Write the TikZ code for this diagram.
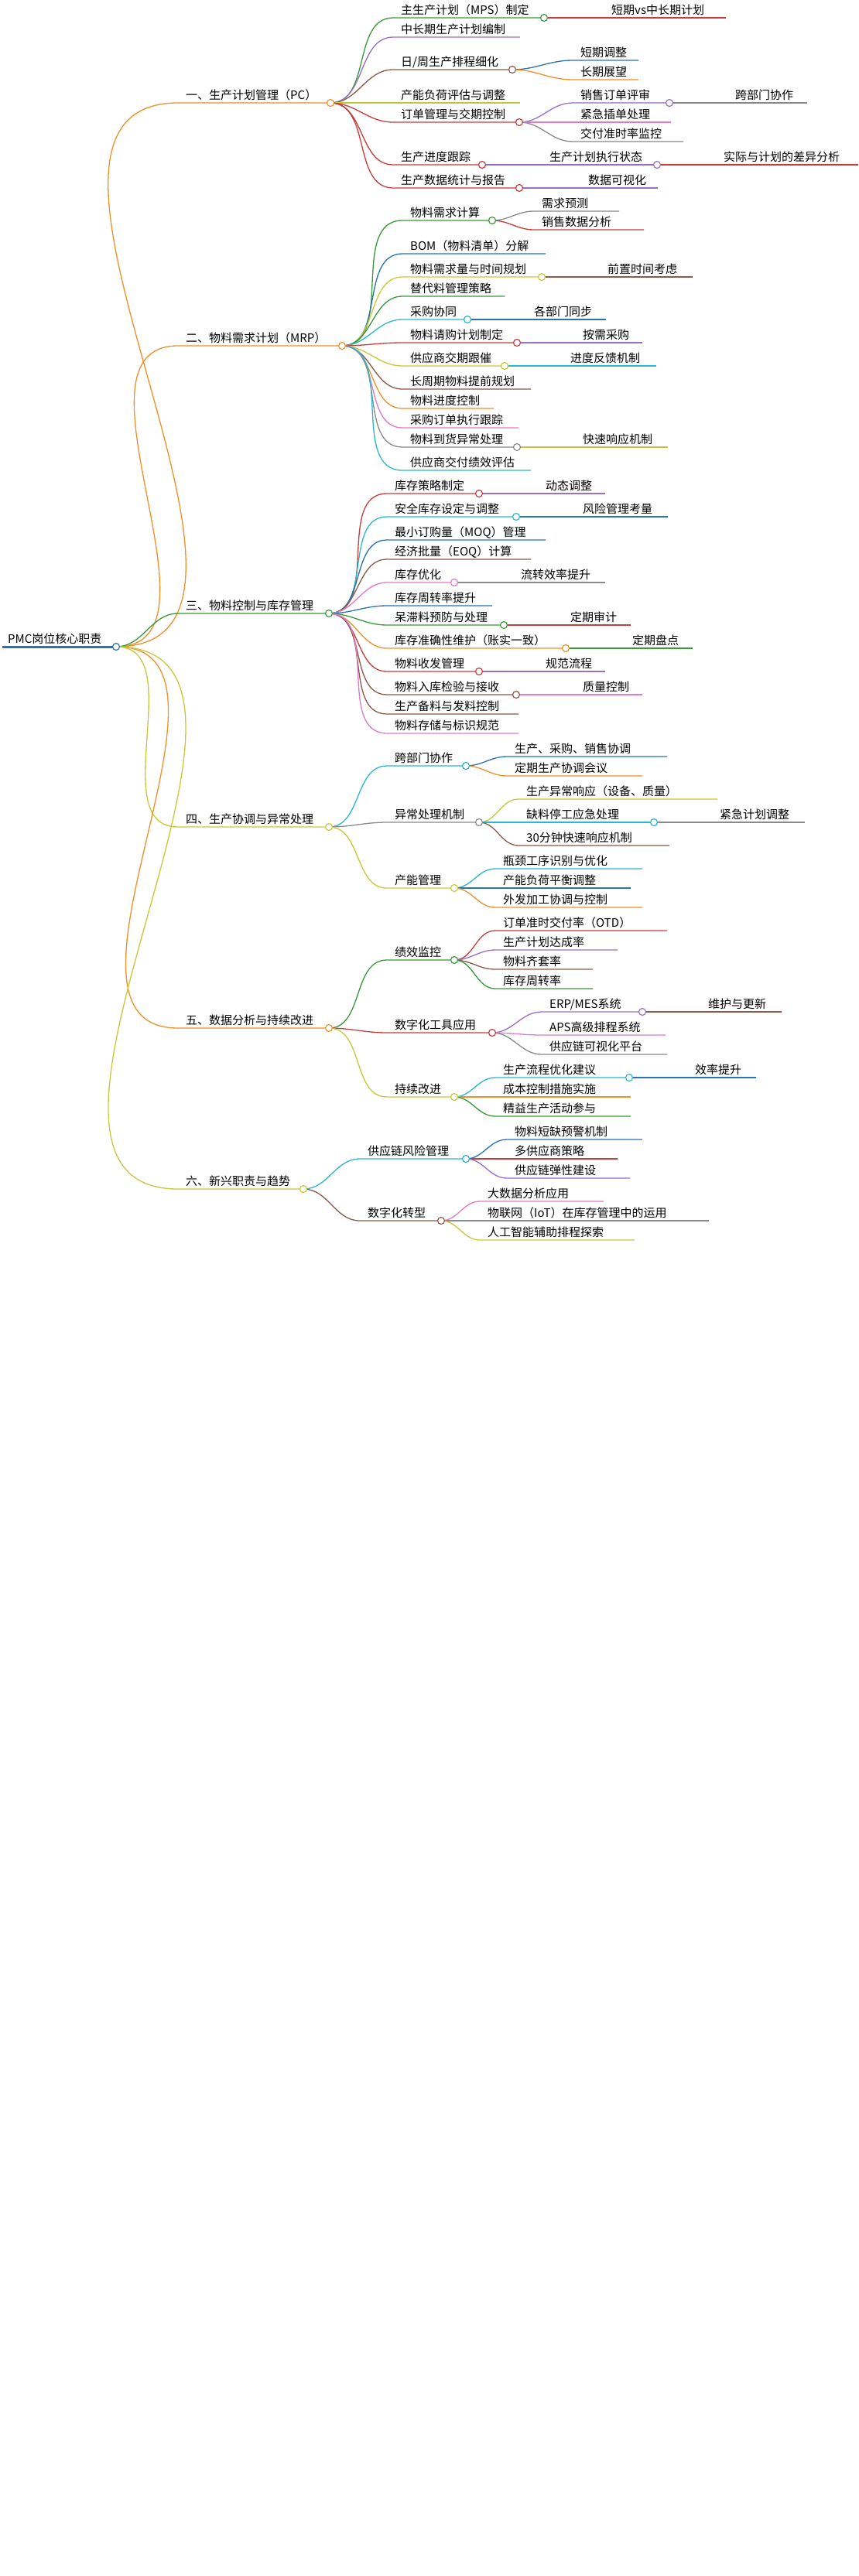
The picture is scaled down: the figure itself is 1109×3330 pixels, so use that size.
\documentclass[tikz,border=0pt]{standalone}
\usepackage{fontspec}
\setmainfont{Noto Sans CJK SC}
\definecolor{cgreen}{HTML}{3A9A3A}
\definecolor{cpurple}{HTML}{9B6FC7}
\definecolor{cbrown}{HTML}{8B5A4A}
\definecolor{cyellow}{HTML}{C8C83C}
\definecolor{cred}{HTML}{C83C3C}
\definecolor{corange}{HTML}{F0902A}
\definecolor{cblue}{HTML}{2A72B0}
\definecolor{ccyan}{HTML}{2AB8CC}
\definecolor{cpink}{HTML}{E07AC8}
\definecolor{cgray}{HTML}{8A8A8A}
\tikzset{
  edge/.style={line width=1.3pt},
  lbl/.style={inner sep=0pt,anchor=base west,font=\fontsize{15}{17}\selectfont},
  knot/.style={circle,fill=white,line width=1.2pt,minimum size=9pt,inner sep=0pt}
}
% name, parent, x start, x end, y, colour, text
\newcommand{\br}[7]{%
  \coordinate (#1-s) at (#3,#5);
  \coordinate (#1) at (#4,#5);
  \draw[edge,#6] (#2) to[out=0,in=180] (#1-s) -- (#1);
  \node[lbl] (#1-t) at (#3+10,#5-5) {#7};
}
\newcommand{\knot}[2]{\node[knot,draw=#2] at (#1) {};}
\begin{document}
\begin{tikzpicture}[x=1pt,y=-1pt]
\useasboundingbox[fill=white] (0,0) rectangle (1109,3330);
%root
\coordinate (root-s) at (3,836);
\coordinate (root) at (150,836);
\draw[line width=3pt,cblue] (root-s) -- (root);
\node[lbl] (root-t) at (10,831) {PMC岗位核心职责};
%level 1
\br{a}{root}{230}{427}{133}{corange}{一、生产计划管理（PC）}
\br{b}{root}{230}{442}{447}{corange}{二、物料需求计划（MRP）}
\br{c}{root}{230}{425}{793}{cgreen}{三、物料控制与库存管理}
\br{d}{root}{230}{425}{1069}{cyellow}{四、生产协调与异常处理}
\br{e}{root}{230}{425}{1329}{corange}{五、数据分析与持续改进}
\br{f}{root}{230}{392}{1537}{cyellow}{六、新兴职责与趋势}
%一
\br{a1}{a}{508}{703}{23}{cgreen}{主生产计划（MPS）制定}
\br{a2}{a}{508}{672}{48}{cpurple}{中长期生产计划编制}
\br{a3}{a}{508}{662}{90}{cbrown}{日/周生产排程细化}
\br{a4}{a}{508}{672}{133}{cyellow}{产能负荷评估与调整}
\br{a5}{a}{508}{671}{158}{cred}{订单管理与交期控制}
\br{a6}{a}{508}{623}{213}{cred}{生产进度跟踪}
\br{a7}{a}{508}{671}{243}{cred}{生产数据统计与报告}
\br{a11}{a1}{710}{938}{23}{cred}{\hspace{70pt}短期vs中长期计划}
\br{a31}{a3}{740}{825}{78}{cblue}{短期调整}
\br{a32}{a3}{740}{825}{103}{corange}{长期展望}
\br{a51}{a5}{740}{865}{133}{cpurple}{销售订单评审}
\br{a52}{a5}{740}{867}{158}{cpink}{紧急插单处理}
\br{a53}{a5}{740}{883}{183}{cgray}{交付准时率监控}
\br{a511}{a51}{870}{1043}{133}{cgray}{\hspace{70pt}跨部门协作}
\br{a61}{a6}{630}{849}{213}{cpurple}{\hspace{70pt}生产计划执行状态}
\br{a611}{a61}{855}{1109}{213}{cred}{\hspace{70pt}实际与计划的差异分析}
\br{a71}{a7}{680}{850}{243}{cpurple}{\hspace{70pt}数据可视化}
\knot{a1}{cgreen}\knot{a3}{cbrown}\knot{a5}{cred}\knot{a51}{cpurple}
\knot{a6}{cred}\knot{a61}{cpurple}\knot{a7}{cred}
%二
\br{b1}{b}{520}{636}{285}{cgreen}{物料需求计算}
\br{b2}{b}{520}{705}{328}{cblue}{BOM（物料清单）分解}
\br{b3}{b}{520}{700}{358}{cyellow}{物料需求量与时间规划}
\br{b4}{b}{520}{652}{383}{cgreen}{替代料管理策略}
\br{b5}{b}{520}{604}{413}{ccyan}{采购协同}
\br{b6}{b}{520}{668}{443}{cred}{物料请购计划制定}
\br{b7}{b}{520}{652}{473}{cyellow}{供应商交期跟催}
\br{b8}{b}{520}{686}{503}{cbrown}{长周期物料提前规划}
\br{b9}{b}{520}{638}{528}{corange}{物料进度控制}
\br{b10}{b}{520}{670}{553}{cpink}{采购订单执行跟踪}
\br{b11}{b}{520}{668}{578}{cgray}{物料到货异常处理}
\br{b12}{b}{520}{686}{608}{ccyan}{供应商交付绩效评估}
\br{b11a}{b1}{690}{800}{273}{cgray}{需求预测}
\br{b12a}{b1}{690}{832}{297}{cred}{销售数据分析}
\br{b31}{b3}{705}{895}{358}{cbrown}{\hspace{70pt}前置时间考虑}
\br{b51}{b5}{610}{783}{413}{cblue}{\hspace{70pt}各部门同步}
\br{b61}{b6}{673}{830}{443}{cpurple}{\hspace{70pt}按需采购}
\br{b71}{b7}{657}{848}{473}{ccyan}{\hspace{70pt}进度反馈机制}
\br{b111}{b11}{673}{863}{578}{cyellow}{\hspace{70pt}快速响应机制}
\knot{b1}{cgreen}\knot{b3}{cyellow}\knot{b5}{ccyan}\knot{b6}{cred}
\knot{b7}{cyellow}\knot{b11}{cgray}
%三
\br{c1}{c}{500}{619}{638}{cred}{库存策略制定}
\br{c2}{c}{500}{667}{668}{ccyan}{安全库存设定与调整}
\br{c3}{c}{500}{705}{698}{cblue}{最小订购量（MOQ）管理}
\br{c4}{c}{500}{686}{723}{cbrown}{经济批量（EOQ）计算}
\br{c5}{c}{500}{587}{753}{cpink}{库存优化}
\br{c6}{c}{500}{636}{783}{cblue}{库存周转率提升}
\br{c7}{c}{500}{651}{808}{cgreen}{呆滞料预防与处理}
\br{c8}{c}{500}{731}{838}{corange}{库存准确性维护（账实一致）}
\br{c9}{c}{500}{619}{868}{cred}{物料收发管理}
\br{c10}{c}{500}{667}{898}{cbrown}{物料入库检验与接收}
\br{c11}{c}{500}{670}{923}{cbrown}{生产备料与发料控制}
\br{c12}{c}{500}{670}{948}{cpink}{物料存储与标识规范}
\br{c1a}{c1}{625}{782}{638}{cpurple}{\hspace{70pt}动态调整}
\br{c2a}{c2}{673}{863}{668}{cblue}{\hspace{70pt}风险管理考量}
\br{c5a}{c5}{593}{782}{753}{cgray}{\hspace{70pt}流转效率提升}
\br{c7a}{c7}{657}{815}{808}{cred}{\hspace{70pt}定期审计}
\br{c8a}{c8}{737}{895}{838}{cgreen}{\hspace{70pt}定期盘点}
\br{c9a}{c9}{625}{782}{868}{cpurple}{\hspace{70pt}规范流程}
\br{c10a}{c10}{673}{830}{898}{cpink}{\hspace{70pt}质量控制}
\knot{c1}{cred}\knot{c2}{ccyan}\knot{c5}{cpink}\knot{c7}{cgreen}
\knot{c8}{corange}\knot{c9}{cred}\knot{c10}{cbrown}
%四
\br{d1}{d}{500}{602}{990}{ccyan}{跨部门协作}
\br{d2}{d}{500}{619}{1063}{cgray}{异常处理机制}
\br{d3}{d}{500}{587}{1148}{cyellow}{产能管理}
\br{d11}{d1}{655}{862}{978}{cblue}{生产、采购、销售协调}
\br{d12}{d1}{655}{830}{1003}{corange}{定期生产协调会议}
\br{d21}{d2}{670}{927}{1033}{cyellow}{生产异常响应（设备、质量）}
\br{d22}{d2}{670}{845}{1063}{ccyan}{缺料停工应急处理}
\br{d23}{d2}{670}{865}{1093}{cbrown}{30分钟快速响应机制}
\br{d221}{d22}{850}{1040}{1063}{cgray}{\hspace{70pt}紧急计划调整}
\br{d31}{d3}{640}{830}{1123}{ccyan}{瓶颈工序识别与优化}
\br{d32}{d3}{640}{815}{1148}{cblue}{产能负荷平衡调整}
\br{d33}{d3}{640}{830}{1173}{corange}{外发加工协调与控制}
\knot{d1}{ccyan}\knot{d2}{cgray}\knot{d22}{ccyan}\knot{d3}{cyellow}
%五
\br{e1}{e}{500}{587}{1241}{cgreen}{绩效监控}
\br{e2}{e}{500}{636}{1335}{cred}{数字化工具应用}
\br{e3}{e}{500}{587}{1418}{cyellow}{持续改进}
\br{e11}{e1}{640}{862}{1203}{cred}{订单准时交付率（OTD）}
\br{e12}{e1}{640}{798}{1228}{cpurple}{生产计划达成率}
\br{e13}{e1}{640}{766}{1253}{cbrown}{物料齐套率}
\br{e14}{e1}{640}{766}{1278}{cgreen}{库存周转率}
\br{e21}{e2}{700}{830}{1308}{cpurple}{ERP/MES系统}
\br{e22}{e2}{700}{860}{1338}{cpink}{APS高级排程系统}
\br{e23}{e2}{700}{862}{1363}{cgray}{供应链可视化平台}
\br{e211}{e21}{835}{1010}{1308}{cbrown}{\hspace{70pt}维护与更新}
\br{e31}{e3}{640}{813}{1393}{ccyan}{生产流程优化建议}
\br{e32}{e3}{640}{815}{1418}{corange}{成本控制措施实施}
\br{e33}{e3}{640}{815}{1443}{cgreen}{精益生产活动参与}
\br{e311}{e31}{818}{977}{1393}{cblue}{\hspace{70pt}效率提升}
\knot{e1}{cgreen}\knot{e2}{cred}\knot{e21}{cpurple}\knot{e3}{cyellow}\knot{e31}{ccyan}
%六
\br{f1}{f}{465}{602}{1498}{ccyan}{供应链风险管理}
\br{f2}{f}{465}{570}{1578}{cbrown}{数字化转型}
\br{f11}{f1}{655}{830}{1473}{cblue}{物料短缺预警机制}
\br{f12}{f1}{655}{798}{1498}{cred}{多供应商策略}
\br{f13}{f1}{655}{814}{1523}{cpurple}{供应链弹性建设}
\br{f21}{f2}{620}{780}{1553}{cpink}{大数据分析应用}
\br{f22}{f2}{620}{916}{1578}{cgray}{物联网（IoT）在库存管理中的运用}
\br{f23}{f2}{620}{820}{1603}{cyellow}{人工智能辅助排程探索}
\knot{f1}{ccyan}\knot{f2}{cbrown}
\knot{a}{corange}\knot{b}{corange}\knot{c}{cgreen}\knot{d}{cyellow}\knot{e}{corange}\knot{f}{cyellow}
\knot{root}{cblue}
\end{tikzpicture}
\end{document}
